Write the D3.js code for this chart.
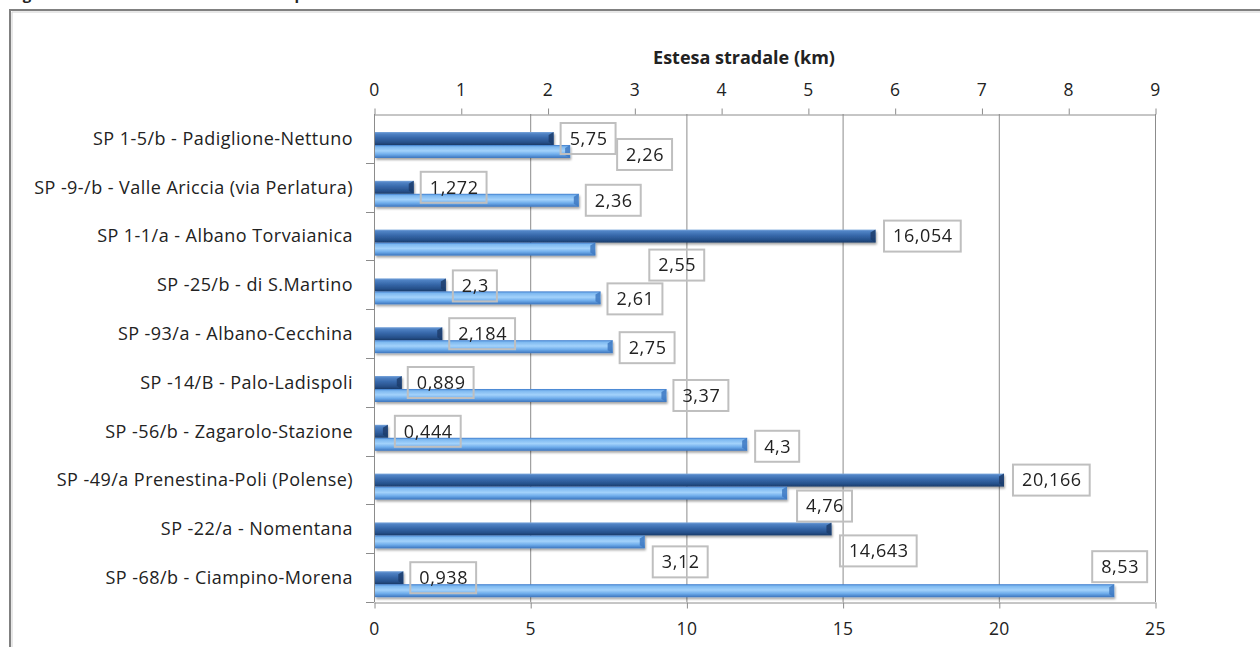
<!DOCTYPE html>
<html><head><meta charset="utf-8">
<script src="https://cdn.jsdelivr.net/npm/d3@7"></script>
<style>
html,body{margin:0;padding:0;background:#fff;}
svg{display:block;}
text{font-family:"Open Sans",Lato,sans-serif;fill:#222;}
</style></head>
<body>
<svg id="chart" width="1260" height="647"></svg>
<script>
// ---------- data ----------
const categories = [
  "SP 1-5/b - Padiglione-Nettuno",
  "SP -9-/b - Valle Ariccia (via Perlatura)",
  "SP 1-1/a - Albano Torvaianica",
  "SP -25/b - di S.Martino",
  "SP -93/a - Albano-Cecchina",
  "SP -14/B - Palo-Ladispoli",
  "SP -56/b - Zagarolo-Stazione",
  "SP -49/a Prenestina-Poli (Polense)",
  "SP -22/a - Nomentana",
  "SP -68/b - Ciampino-Morena"
];
// dark series (bottom axis 0-25)
const seriesA = [5.75, 1.272, 16.054, 2.3, 2.184, 0.889, 0.444, 20.166, 14.643, 0.938];
// light series (top axis 0-9, km)
const seriesB = [2.26, 2.36, 2.55, 2.61, 2.75, 3.37, 4.3, 4.76, 3.12, 8.53];
const topTicks = [0,1,2,3,4,5,6,7,8,9];
const bottomTicks = [0,5,10,15,20,25];
const axisTitle = "Estesa stradale (km)";
const figTitle = "Figura 4 – Estesa stradale delle strade provinciali";

// label nudges (layout, not data)
const nudgeA = [[0,0],[0,0],[1.5,0],[0,1],[0,0],[-1,0],[0,0],[2,0],[1.5,22],[0,0]];
const nudgeB = [[40,3],[0,0],[47,16],[0,1],[0,1],[0,0],[1,2],[3,13],[1,20],[-29,-24]];

const fmt = v => String(v).replace(".", ",");

// ---------- layout ----------
const svg = d3.select("#chart");
const L = 374, R = 1155, T = 114, B = 602;
const xBot = d3.scaleLinear().domain([0,25]).range([L,R]);
const xTop = d3.scaleLinear().domain([0,9]).range([L,R]);
const y = d3.scaleBand().domain(categories).range([T,B]).padding(0);
const bw = y.bandwidth();

const defs = svg.append("defs");
function grad(id, stops){
  const g = defs.append("linearGradient").attr("id",id).attr("x1",0).attr("y1",0).attr("x2",0).attr("y2",1);
  stops.forEach(s=>g.append("stop").attr("offset",s[0]).attr("stop-color",s[1]));
}
grad("gDark", [["0%","#7aa6dc"],["14%","#4f82c4"],["45%","#3768aa"],["80%","#26508a"],["100%","#1b3b68"]]);
grad("gLight", [["0%","#3c7acb"],["14%","#7db8f0"],["45%","#a3d2fb"],["72%","#6eaceb"],["100%","#3b74bd"]]);
const f = defs.append("filter").attr("id","sh").attr("x","-5%").attr("y","-50%").attr("width","110%").attr("height","220%");
f.append("feDropShadow").attr("dx",1).attr("dy",2).attr("stdDeviation",1.2).attr("flood-color","#000").attr("flood-opacity",0.35);

// frame
svg.append("path").attr("d","M10,647 L10,10 L1260,10").attr("fill","none").attr("stroke","#808080").attr("stroke-width",2);
svg.append("path").attr("d","M12,647 L12,12 L1260,12").attr("fill","none").attr("stroke","#d0d0d0").attr("stroke-width",1);
// partially visible figure title (cut off at the top edge, as in the reference)
svg.append("text").attr("x",10).attr("y",-0.5).style("font-weight","bold").style("font-size","15px").text(figTitle);

// gridlines (bottom axis)
svg.append("g").selectAll("line").data(bottomTicks.filter(d=>d>0)).join("line")
  .attr("x1",d=>xBot(d)+0.5).attr("x2",d=>xBot(d)+0.5).attr("y1",T).attr("y2",B)
  .attr("stroke","#8c8c8c").attr("stroke-width",1);

// top axis
const gTop = svg.append("g").attr("transform",`translate(0,${T+0.5})`)
  .call(d3.axisTop(xTop).tickValues(topTicks).tickSize(6).tickSizeOuter(0).tickPadding(13));
// bottom axis
const gBot = svg.append("g").attr("transform",`translate(0,${B+0.5})`)
  .call(d3.axisBottom(xBot).tickValues(bottomTicks).tickSize(6).tickSizeOuter(0).tickPadding(14));
[gTop,gBot].forEach(g=>{
  g.select(".domain").attr("stroke","#8c8c8c");
  g.selectAll(".tick line").attr("stroke","#8c8c8c");
  g.selectAll(".tick text").style("font-size","17.5px").style("letter-spacing","0.4px")
    .style("font-family","'Open Sans', Lato, sans-serif").attr("fill","#222");
});
gTop.selectAll(".tick line").attr("transform","translate(0.5,0)");
gBot.selectAll(".tick line").attr("transform","translate(0.5,0)");

// axis title
svg.append("text").attr("x",744).attr("y",64).attr("text-anchor","middle")
  .style("font-weight","bold").style("font-size","18px").text(axisTitle);

// left axis
svg.append("line").attr("x1",L+0.5).attr("x2",L+0.5).attr("y1",T).attr("y2",B).attr("stroke","#8c8c8c");
svg.append("g").selectAll("line").data(categories).join("line")
  .attr("x1",L-8).attr("x2",L).attr("y1",d=>Math.round(y(d)+bw)+0.5).attr("y2",d=>Math.round(y(d)+bw)+0.5)
  .attr("stroke","#8c8c8c");
svg.append("g").selectAll("text").data(categories).join("text")
  .attr("x",353).attr("y",d=>y(d)+bw/2).attr("dy","0.35em").attr("text-anchor","end")
  .style("font-size","18px").style("letter-spacing","0.45px").text(d=>d);

// bars
const barH = bw*0.266;
const offA = bw*0.369, offB = bw*0.635;
function drawBars(vals, scale, off, gid, cap){
  const g = svg.append("g").attr("filter","url(#sh)");
  const bars = g.selectAll("g").data(vals).join("g");
  bars.append("rect")
    .attr("x",L+1).attr("y",(d,i)=>y(categories[i])+off)
    .attr("width",d=>Math.max(0,scale(d)-L-1)).attr("height",barH)
    .attr("fill",`url(#${gid})`);
  bars.append("path")
    .attr("d",(d,i)=>{
      const x = scale(d), t = y(categories[i])+off, b = t+barH;
      return `M${x-5},${t+3} L${x},${t} L${x},${b} L${x-5},${b-3} Z`;
    })
    .attr("fill",cap).attr("opacity",0.85);
}
drawBars(seriesA, xBot, offA, "gDark", "#1d3d6c");
drawBars(seriesB, xTop, offB, "gLight", "#3e79c2");

// data labels
function drawLabels(vals, scale, off, nudge){
  vals.forEach((v,i)=>{
    const cx = scale(v) + 7 + nudge[i][0];
    const cy = y(categories[i]) + off + barH/2 + nudge[i][1];
    const g = svg.append("g");
    const t = g.append("text").attr("y",cy).attr("dy","0.35em")
      .style("font-size","18px").style("letter-spacing","0.6px").text(fmt(v));
    const w = t.node().getComputedTextLength();
    t.attr("x",cx+9);
    g.insert("rect","text").attr("x",cx).attr("y",cy-15.5).attr("width",w+17).attr("height",31)
      .attr("fill","none").attr("stroke","#bfbfbf").attr("stroke-width",2);
  });
}
drawLabels(seriesA, xBot, offA, nudgeA);
drawLabels(seriesB, xTop, offB, nudgeB);
</script>
</body></html>
